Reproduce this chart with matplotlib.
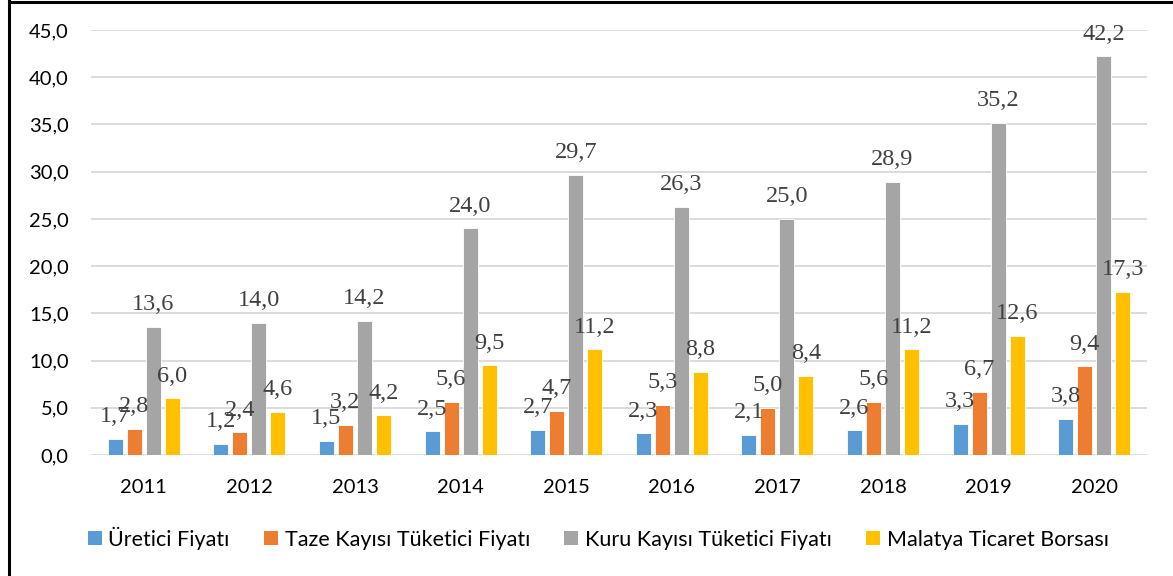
import matplotlib
matplotlib.use("Agg")
import matplotlib.pyplot as plt
import numpy as np
from matplotlib.lines import Line2D
from matplotlib.patches import Patch

years = ["2011", "2012", "2013", "2014", "2015", "2016", "2017", "2018", "2019", "2020"]
uretici = [1.7, 1.2, 1.5, 2.5, 2.7, 2.3, 2.1, 2.6, 3.3, 3.8]
taze = [2.8, 2.4, 3.2, 5.6, 4.7, 5.3, 5.0, 5.6, 6.7, 9.4]
kuru = [13.6, 14.0, 14.2, 24.0, 29.7, 26.3, 25.0, 28.9, 35.2, 42.2]
malatya = [6.0, 4.6, 4.2, 9.5, 11.2, 8.8, 8.4, 11.2, 12.6, 17.3]
series_names = ["Üretici Fiyatı", "Taze Kayısı Tüketici Fiyatı",
                "Kuru Kayısı Tüketici Fiyatı", "Malatya Ticaret Borsası"]
colors = ["#5B9BD5", "#ED7D31", "#A5A5A5", "#FFC000"]

SANS = ["Lato", "DejaVu Sans"]
SERIF = ["Liberation Serif", "DejaVu Serif"]

fig = plt.figure(figsize=(11.73, 5.76), dpi=100)
ax = fig.add_axes([91 / 1173, 1 - 455 / 576, (1147 - 91) / 1173, (455 - 30) / 576])

x = np.arange(len(years))
step, width = 0.18, 0.142
for i, (vals, col) in enumerate(zip([uretici, taze, kuru, malatya], colors)):
    pos = x + (i - 1.5) * step
    ax.bar(pos, vals, width, color=col, edgecolor="white", linewidth=0.6, zorder=3)
    for px, v in zip(pos, vals):
        ax.annotate(f"{v:.1f}".replace(".", ","), (px, v), xytext=(0, 12),
                    textcoords="offset points", ha="center", va="baseline",
                    fontsize=17.5, family=SERIF, color="#404040", zorder=4)

ax.set_xlim(-0.5, 9.5)
ax.set_ylim(0, 45)
ax.set_yticks(np.arange(0, 46, 5))
ax.set_yticklabels([f"{t:.1f}".replace(".", ",") for t in np.arange(0, 46, 5)],
                   family=SANS, fontsize=14.5)
ax.set_xticks(x)
ax.set_xticklabels(years, family=SANS, fontsize=14.5)
ax.tick_params(axis="both", length=0)
ax.tick_params(axis="y", pad=16)
ax.tick_params(axis="x", pad=17)
ax.grid(axis="y", color="#D9D9D9", linewidth=1.3, zorder=0)
for s in ax.spines.values():
    s.set_visible(False)

handles = [Patch(facecolor=c, edgecolor="none") for c in colors]
fig.legend(handles, series_names, loc="center", bbox_to_anchor=(0.51, 1 - 538 / 576),
           ncol=4, frameon=False, prop={"family": SANS, "size": 15.5},
           handlelength=0.65, handleheight=0.65, handletextpad=0.3, columnspacing=1.6)

# outer frame (only left and top edges are inside the picture)
fig.add_artist(Line2D([9 / 1173, 9 / 1173], [0, 1], transform=fig.transFigure,
                      color="black", linewidth=2.2))
fig.add_artist(Line2D([9 / 1173, 1], [1 - 1.5 / 576, 1 - 1.5 / 576], transform=fig.transFigure,
                      color="black", linewidth=2.2))

fig.savefig("out.png", dpi=100)
